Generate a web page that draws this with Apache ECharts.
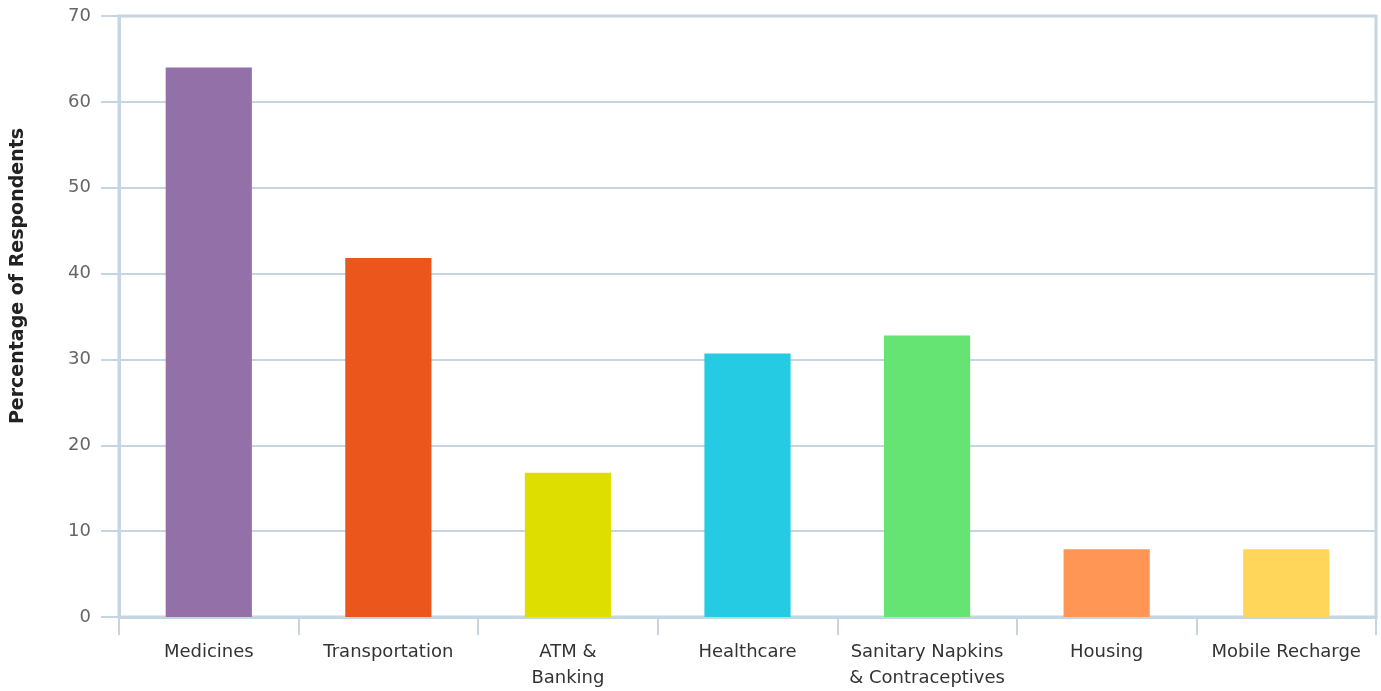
<!DOCTYPE html>
<html>
<head>
<meta charset="utf-8">
<script src="https://cdn.jsdelivr.net/npm/echarts@6/dist/echarts.min.js"></script>
<style>
  html, body { margin: 0; padding: 0; background: #ffffff; }
  #chart { width: 1381px; height: 691px; }
</style>
</head>
<body>
<div id="chart"></div>
<script>
// Services respondents found hardest to access
const categories = ['Medicines', 'Transportation', 'ATM &\nBanking', 'Healthcare', 'Sanitary Napkins\n& Contraceptives', 'Housing', 'Mobile Recharge'];
const values = [64, 41.8, 16.8, 30.7, 32.8, 7.9, 7.9];
const barColors = ['#9470a8', '#eb561d', '#dedf00', '#25cae3', '#65e373', '#ff9655', '#ffd55a'];
const yTicks = { min: 0, max: 70, interval: 10 };
const yTitle = 'Percentage of Respondents';

const lineColor = '#c5d5e2';
const fontFamily = '"DejaVu Sans", "Noto Sans", sans-serif';

const chart = echarts.init(document.getElementById('chart'), null, { renderer: 'canvas' });

chart.setOption({
  animation: false,
  backgroundColor: '#ffffff',
  grid: {
    left: 119, right: 5, top: 16, bottom: 74,
    show: true,
    borderColor: lineColor,
    borderWidth: 3,
    backgroundColor: 'transparent'
  },
  graphic: [{
    type: 'text',
    x: 18,
    y: 276,
    rotation: Math.PI / 2,
    style: {
      text: yTitle,
      fill: '#222222',
      font: 'bold 19px ' + fontFamily,
      textAlign: 'center',
      textVerticalAlign: 'middle'
    }
  }],
  xAxis: {
    type: 'category',
    data: categories,
    axisLine: { show: true, lineStyle: { color: lineColor, width: 3 } },
    axisTick: { show: true, length: 18, alignWithLabel: false, lineStyle: { color: lineColor, width: 2 } },
    axisLabel: {
      color: '#333333',
      fontSize: 18,
      fontFamily: fontFamily,
      lineHeight: 26,
      margin: 22,
      interval: 0,
      align: 'center'
    },
    splitLine: { show: false }
  },
  yAxis: {
    type: 'value',
    min: yTicks.min,
    max: yTicks.max,
    interval: yTicks.interval,
    axisLine: { show: true, lineStyle: { color: lineColor, width: 3 } },
    axisTick: { show: true, length: 18, lineStyle: { color: lineColor, width: 2 } },
    axisLabel: {
      color: '#666666',
      fontSize: 18,
      fontFamily: fontFamily,
      margin: 28
    },
    splitLine: { show: true, lineStyle: { color: lineColor, width: 2 } }
  },
  series: [{
    type: 'bar',
    barWidth: '48%',
    data: values.map((v, i) => ({ value: v, itemStyle: { color: barColors[i] } }))
  }]
});
</script>
</body>
</html>
